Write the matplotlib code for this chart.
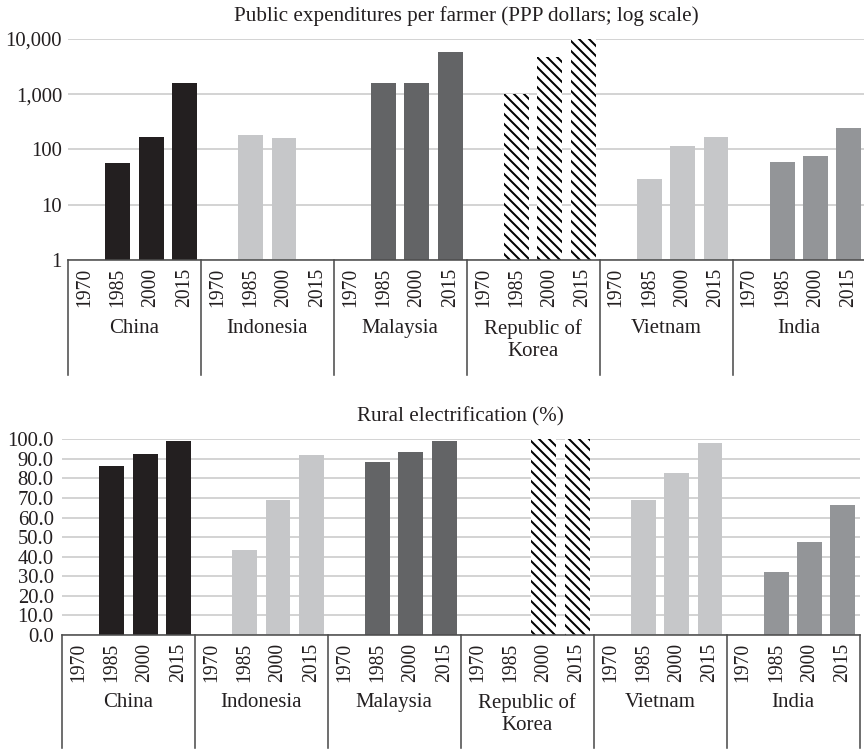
import numpy as np
import matplotlib
matplotlib.use("Agg")
import matplotlib.pyplot as plt
import matplotlib.ticker as mticker
from matplotlib.transforms import blended_transform_factory

# ---------------- data ----------------
countries = ["China", "Indonesia", "Malaysia", "Republic of\nKorea", "Vietnam", "India"]
years = ["1970", "1985", "2000", "2015"]

nan = np.nan
# Public expenditures per farmer (PPP dollars)
china_exp = [nan, 56, 166, 1570]
indonesia_exp = [nan, 183, 159, nan]
malaysia_exp = [nan, 1630, 1580, 5900]
korea_exp = [nan, 1020, 4800, 11000]
vietnam_exp = [nan, 29, 116, 171]
india_exp = [nan, 59, 75, 241]

# Rural electrification (%)
china_elec = [nan, 86.4, 92.5, 99.1]
indonesia_elec = [nan, 43.3, 68.8, 91.8]
malaysia_elec = [nan, 88.4, 93.5, 99.1]
korea_elec = [nan, nan, 100.0, 100.0]
vietnam_elec = [nan, 68.8, 82.8, 98.1]
india_elec = [nan, 32.2, 47.5, 66.4]

exp_series = [china_exp, indonesia_exp, malaysia_exp, korea_exp, vietnam_exp, india_exp]
elec_series = [china_elec, indonesia_elec, malaysia_elec, korea_elec, vietnam_elec, india_elec]

exp_ticks = [1, 10, 100, 1000, 10000]
elec_ticks = [0, 10, 20, 30, 40, 50, 60, 70, 80, 90, 100]

# ---------------- style ----------------
BS = chr(92)
colors = ["#231f20", "#c6c7c9", "#636466", "white", "#c6c7c9", "#939598"]
hatches = [None, None, None, BS * 4, None, None]
text_color = "#231f20"
grid_color = "#c9c9c9"
axis_color = "#4d4d4d"

DPI = 120
W, H = 864, 749
plt.rcParams["font.family"] = ["Liberation Serif", "DejaVu Serif"]
plt.rcParams["hatch.linewidth"] = 1.2
plt.rcParams["text.color"] = text_color
FS_YEAR = 11.8
FS_Y = 12.4
FS_NAME = 12.5
FS_TITLE = 12.7
LINE_GAP = 23.5  # px between lines of a wrapped country name

fig = plt.figure(figsize=(W / DPI, H / DPI), dpi=DPI)


def rect(l, t, r, b):
    return [l / W, 1 - b / H, (r - l) / W, (b - t) / H]


ax1 = fig.add_axes(rect(68, 39, 865.5, 260))
ax2 = fig.add_axes(rect(62, 439.3, 859.5, 635))


def draw(ax, series, title, ax_h_px, sep_px, label_px):
    n_groups = len(series)
    n_years = len(years)
    for g, vals in enumerate(series):
        x = np.arange(n_years) + g * n_years
        ax.bar(x, vals, width=0.75, color=colors[g],
               edgecolor="black" if hatches[g] else colors[g],
               linewidth=0, hatch=hatches[g], zorder=3)
    total = n_groups * n_years
    ax.set_xlim(-0.5, total - 0.5)
    ax.set_xticks(np.arange(total))
    ax.set_xticklabels(years * n_groups, rotation=90, fontsize=FS_YEAR, color=text_color)
    ax.tick_params(axis="x", length=0, pad=4.8)
    ax.tick_params(axis="y", length=0, labelsize=FS_Y, labelcolor=text_color)
    ax.yaxis.grid(True, color=grid_color, linewidth=0.95, zorder=0)
    ax.set_axisbelow(True)
    for s in ["left", "right", "top"]:
        ax.spines[s].set_visible(False)
    ax.spines["bottom"].set_color(axis_color)
    ax.spines["bottom"].set_linewidth(0.95)
    ax.spines["bottom"].set_zorder(4)
    ax.set_title(title, fontsize=FS_TITLE, color=text_color, pad=10.5)

    trans = blended_transform_factory(ax.transData, ax.transAxes)
    depth = -sep_px / ax_h_px
    for g in range(n_groups + 1):
        xb = g * n_years - 0.5
        ax.plot([xb, xb], [0, depth], color=axis_color, linewidth=0.95,
                transform=trans, clip_on=False, zorder=4)
    for g, name in enumerate(countries):
        xc = g * n_years + (n_years - 1) / 2
        extra = name.count("\n")
        ax.text(xc, -(label_px + extra * LINE_GAP) / ax_h_px, name, transform=trans,
                ha="center", va="baseline", fontsize=FS_NAME, color=text_color,
                linespacing=1.22, multialignment="center")


# top: log scale
ax1.set_yscale("log")
ax1.set_ylim(1, 10000)
ax1.set_yticks(exp_ticks)
ax1.yaxis.set_major_formatter(mticker.FuncFormatter(lambda v, p: f"{v:,.0f}"))
ax1.yaxis.set_minor_locator(mticker.NullLocator())
ax1.tick_params(axis="y", pad=3.6)
draw(ax1, exp_series, "Public expenditures per farmer (PPP dollars; log scale)", 221, 115, 73)

# bottom: linear
ax2.set_ylim(0, 100)
ax2.set_yticks(elec_ticks)
ax2.yaxis.set_major_formatter(mticker.FormatStrFormatter("%.1f"))
ax2.tick_params(axis="y", pad=5.0)
draw(ax2, elec_series, "Rural electrification (%)", 195.7, 113, 72)
ax2.set_ylim(0, 100)
ax1.set_ylim(1, 10000)

fig.savefig("out.png", dpi=DPI)
